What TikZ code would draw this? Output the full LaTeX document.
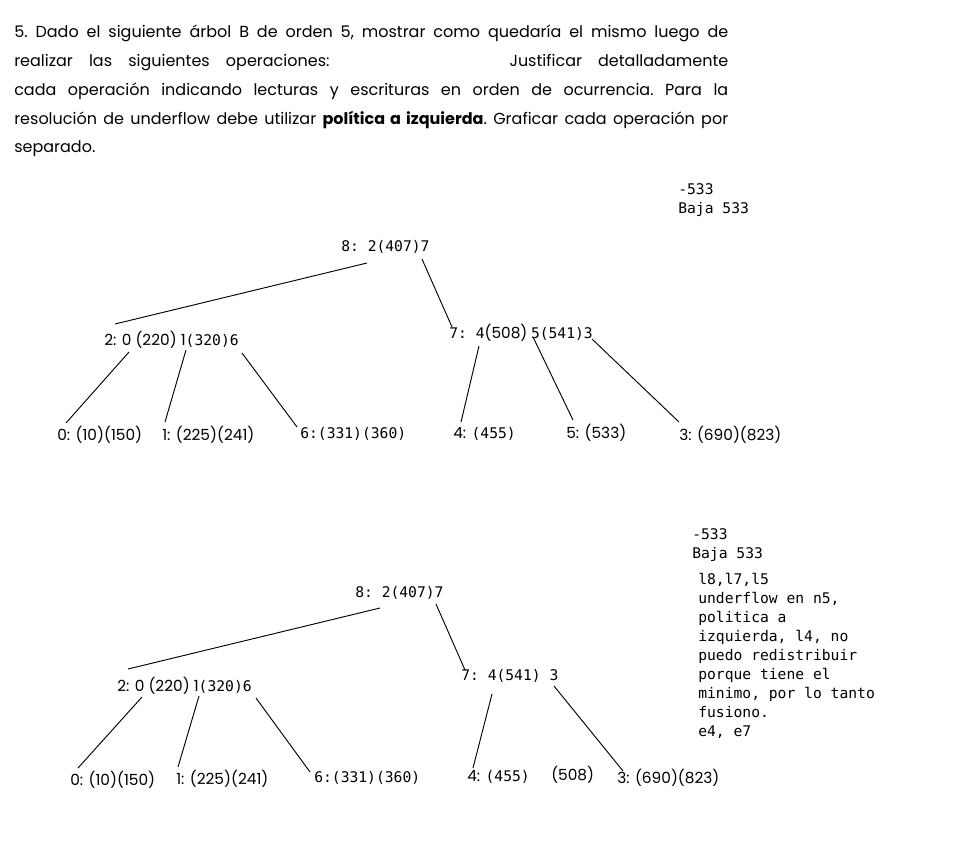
\documentclass[tikz,border=0pt]{standalone}
\usepackage{fontspec}
\setmainfont{Poppins}
\setsansfont{Poppins}
\setmonofont{DejaVu Sans Mono}
\usetikzlibrary{calc}

\newcommand{\kmono}[1]{{\ttfamily\fontsize{11}{14}\selectfont #1}}
\newcommand{\ksans}[1]{{\rmfamily\fontsize{11.5}{14}\selectfont #1}}

\tikzset{
  key/.style={inner sep=0pt,anchor=west},
  note/.style={inner sep=0pt,anchor=north west,align=left,
    font=\ttfamily\fontsize{11}{14.25}\selectfont},
  edge/.style={black,line width=0.7pt}
}

\begin{document}
\begin{tikzpicture}[x=0.75pt,y=-0.75pt]
  \useasboundingbox[fill=white] (0,0) rectangle (974,850);

  % enunciado
  \node[inner sep=0pt,anchor=north west,text width=535.5pt,align=justify,
    font=\frenchspacing\fontsize{12}{21.6}\selectfont] (txt) at (14,25)
    {5. Dado el siguiente árbol B de orden 5, mostrar como quedaría el mismo luego de\linebreak
     realizar las siguientes operaciones:\hspace{135pt}Justificar detalladamente\linebreak
     cada operación indicando lecturas y escrituras en orden de ocurrencia. Para la\linebreak
     resolución de underflow debe utilizar \textbf{política a izquierda}. Graficar cada operación por\linebreak
     separado.};

  % arbol inicial
  \node[note] (op1) at (678,183) {-533\\Baja 533};
  \node[key] (r1) at (341,247) {\kmono{8: 2(407)7}};
  \node[key] (a1) at (104,340) {\ksans{2: 0 (220) 1}\kmono{(320)6}};
  \node[key] (b1) at (449,333) {\kmono{7: 4}\ksans{(508)} \kmono{5(541)3}};
  \node[key] (l10) at (57,435) {\ksans{0: (10)(150)}};
  \node[key] (l11) at (162,435) {\ksans{1: (225)(241)}};
  \node[key] (l16) at (300,434) {\kmono{6:(331)(360)}};
  \node[key] (l14) at (453,434) {\ksans{4: }\kmono{(455)}};
  \node[key] (l15) at (566,433) {\ksans{5: (533)}};
  \node[key] (l13) at (679,435) {\ksans{3: (690)(823)}};

  \draw[edge] ($(r1.west)+(26,16)$) -- ($(a1.west)+(11,-16)$);
  \draw[edge] ($(r1.west)+(81,12)$) -- ($(b1.west)+(3,-6)$);
  \draw[edge] ($(a1.west)+(25,12)$) -- ($(l10.west)+(9,-12)$);
  \draw[edge] ($(a1.west)+(82,10)$) -- ($(l11.west)+(3,-13)$);
  \draw[edge] ($(a1.west)+(138,13)$) -- ($(l16.west)+(-3,-7)$);
  \draw[edge] ($(b1.west)+(30,13)$) -- ($(l14.west)+(8,-12)$);
  \draw[edge] ($(b1.west)+(84,4)$) -- ($(l15.west)+(7,-13)$);
  \draw[edge] ($(b1.west)+(143,6)$) -- ($(l13.west)+(0,-13)$);

  % luego de la baja
  \node[note] (op2) at (692,528) {-533\\Baja 533};
  \node[note] (why) at (698,573) {l8,l7,l5\\underflow en n5,\\politica a\\izquierda, l4, no\\puedo redistribuir\\porque tiene el\\minimo, por lo tanto\\fusiono.\\e4, e7};
  \node[key] (r2) at (355,593) {\kmono{8: 2(407)7}};
  \node[key] (a2) at (117,686) {\ksans{2: 0 (220) 1}\kmono{(320)6}};
  \node[key] (b2) at (461,676) {\kmono{7: 4(541) 3}};
  \node[key] (l20) at (70,780) {\ksans{0: (10)(150)}};
  \node[key] (l21) at (176,779) {\ksans{1: (225)(241)}};
  \node[key] (l26) at (314,778) {\kmono{6:(331)(360)}};
  \node[key] (l24) at (467,777) {\ksans{4: }\kmono{(455)}};
  \node[key] (l28) at (551,775) {\ksans{(508)}};
  \node[key] (l23) at (617,778) {\ksans{3: (690)(823)}};

  \draw[edge] ($(r2.west)+(25,15)$) -- ($(a2.west)+(11,-17)$);
  \draw[edge] ($(r2.west)+(81,11)$) -- ($(b2.west)+(4,-6)$);
  \draw[edge] ($(a2.west)+(25,11)$) -- ($(l20.west)+(8,-12)$);
  \draw[edge] ($(a2.west)+(82,10)$) -- ($(l21.west)+(2,-12)$);
  \draw[edge] ($(a2.west)+(139,12)$) -- ($(l26.west)+(-4,-6)$);
  \draw[edge] ($(b2.west)+(31,18)$) -- ($(l24.west)+(6,-9)$);
  \draw[edge] ($(b2.west)+(93,10)$) -- ($(l23.west)+(6,-7)$);
\end{tikzpicture}
\end{document}
